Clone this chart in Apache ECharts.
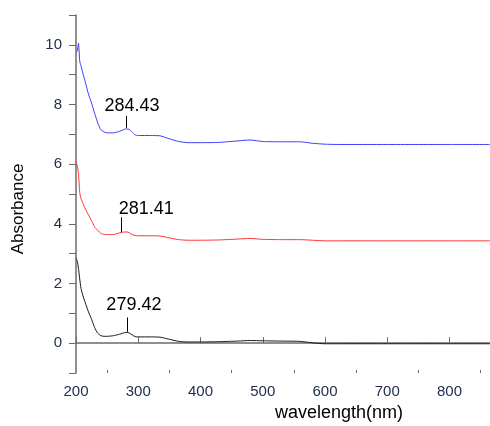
<!DOCTYPE html>
<html>
<head>
<meta charset="utf-8">
<script src="https://cdn.jsdelivr.net/npm/echarts@6/dist/echarts.min.js"></script>
<style>
  html, body { margin: 0; padding: 0; background: #fff; }
  #chart { width: 490px; height: 426px; }
</style>
</head>
<body>
<div id="chart"></div>
<script>
// wavelength grid (nm), shared by all three spectra
const wavelength = [200, 202, 204, 206, 208, 211, 215, 220, 225, 230, 235, 240, 245, 250, 260, 270, 280, 285, 290, 295,
  300, 320, 335, 350, 365, 380, 400, 430, 460, 480, 500, 530, 560, 580, 600, 620, 700, 800, 865];

const blueAbs = [9.75, 9.8, 10.05, 9.45, 9.3, 9.05, 8.75, 8.35, 8.05, 7.7, 7.38, 7.15, 7.08, 7.05, 7.05, 7.1, 7.18, 7.17, 7.08, 6.98,
  6.96, 6.96, 6.95, 6.85, 6.76, 6.72, 6.72, 6.73, 6.78, 6.81, 6.76, 6.75, 6.75, 6.7, 6.67, 6.66, 6.66, 6.66, 6.66];
const redAbs = [6.08, 5.95, 5.69, 5.05, 4.85, 4.69, 4.5, 4.3, 4.1, 3.9, 3.78, 3.68, 3.65, 3.64, 3.64, 3.7, 3.73, 3.71, 3.64, 3.61,
  3.6, 3.6, 3.59, 3.53, 3.47, 3.45, 3.45, 3.46, 3.49, 3.51, 3.48, 3.47, 3.47, 3.45, 3.43, 3.43, 3.43, 3.43, 3.43];
const blackAbs = [2.84, 2.75, 2.5, 2.15, 1.84, 1.6, 1.35, 1.05, 0.8, 0.52, 0.33, 0.25, 0.23, 0.23, 0.25, 0.3, 0.36, 0.35, 0.28, 0.22,
  0.21, 0.21, 0.2, 0.13, 0.06, 0.04, 0.04, 0.05, 0.07, 0.09, 0.08, 0.07, 0.06, 0.01, -0.02, -0.02, -0.02, -0.02, -0.02];

// peak annotations: [blue, red, black]
const peakLabels = ["284.43", "281.41", "279.42"];
const peakTickX = [280, 272, 282];
const peakTickY = [[7.22, 7.62], [3.72, 4.22], [0.38, 0.86]];
const peakTextPos = [[290, 7.94], [313, 4.5], [293, 1.29]];

const xMajor = [200, 300, 400, 500, 600, 700, 800];
const xMinor = [250, 350, 450, 550, 650, 750, 850];

const font = "'Liberation Sans', Arial, sans-serif";
const labelColor = "#22304d";
const axisColor = "#6b6b6b";

const chart = echarts.init(document.getElementById("chart"));

function spectrum(vals, color, i) {
  return {
    type: "line",
    data: wavelength.map((w, k) => [w, vals[k]]),
    showSymbol: false,
    smooth: 0.2,
    lineStyle: { color, width: 1 },
    itemStyle: { color },
    silent: true,
    markLine: {
      silent: true,
      symbol: ["none", "none"],
      label: { show: false },
      lineStyle: { color: "#000", width: 1, type: "solid" },
      data: [[{ coord: [peakTickX[i], peakTickY[i][0]] }, { coord: [peakTickX[i], peakTickY[i][1]] }]],
    },
    markPoint: {
      silent: true,
      symbol: "circle",
      symbolSize: 0,
      itemStyle: { color: "transparent" },
      label: { show: true, position: "inside", formatter: peakLabels[i], color: "#000", fontSize: 18, fontFamily: font },
      data: [{ coord: peakTextPos[i] }],
    },
  };
}

chart.setOption({
  animation: false,
  backgroundColor: "#fff",
  grid: { left: 76, right: 0, top: 15, bottom: 53 },
  xAxis: [
    {
      type: "value", min: 200, max: 865, interval: 100,
      axisLine: { lineStyle: { color: axisColor, width: 1.5 } },
      axisTick: { inside: true, length: 6, customValues: xMajor, lineStyle: { color: axisColor } },
      axisLabel: { customValues: xMajor, color: labelColor, fontSize: 15, fontFamily: font, margin: 11 },
      splitLine: { show: false },
    },
    {
      type: "value", min: 200, max: 865, position: "bottom",
      axisLine: { show: false },
      axisTick: { inside: true, length: 3, customValues: xMinor, lineStyle: { color: axisColor } },
      axisLabel: { show: false },
      splitLine: { show: false },
    },
  ],
  yAxis: {
    type: "value", min: -1, max: 11, interval: 1,
    axisLine: { show: true, lineStyle: { color: axisColor, width: 1.5 } },
    axisTick: { show: true, length: 7, lineStyle: { color: axisColor } },
    axisLabel: {
      color: labelColor, fontSize: 15, fontFamily: font, margin: 14,
      formatter: (v) => (v >= 0 && v <= 10 && v % 2 === 0 ? String(v) : ""),
    },
    splitLine: { show: false },
  },
  graphic: [
    {
      type: "text", x: 18, y: 209, rotation: Math.PI / 2,
      style: { text: "Absorbance", fill: "#000", font: "17px " + font, textAlign: "center", textVerticalAlign: "middle" },
    },
    {
      type: "text", x: 339, y: 413,
      style: { text: "wavelength(nm)", fill: "#000", font: "18px " + font, textAlign: "center", textVerticalAlign: "middle" },
    },
  ],
  series: [
    spectrum(blueAbs, "#3c3cff", 0),
    spectrum(redAbs, "#ff3333", 1),
    spectrum(blackAbs, "#1a1a1a", 2),
  ],
});
</script>
</body>
</html>
